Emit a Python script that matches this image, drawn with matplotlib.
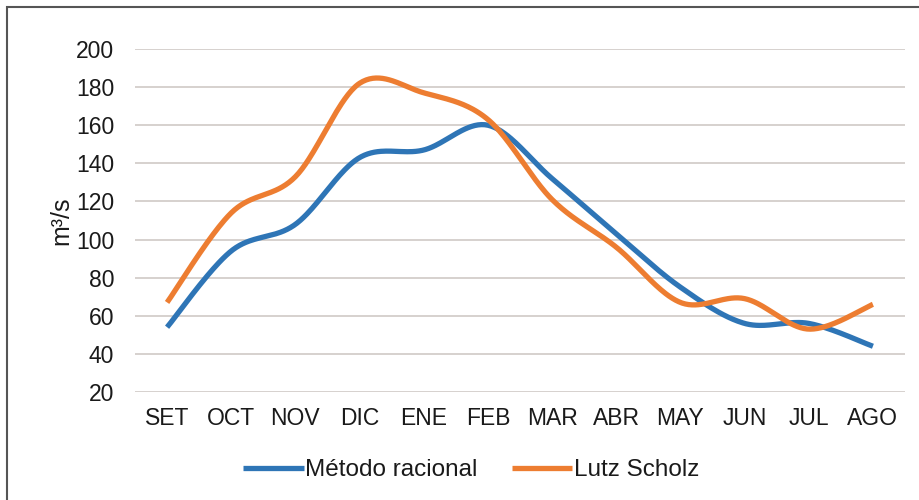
import numpy as np
import matplotlib
matplotlib.use("Agg")
import matplotlib.pyplot as plt
from matplotlib.patches import Rectangle

plt.rcParams["font.family"] = ["Liberation Sans", "DejaVu Sans"]

months = ["SET", "OCT", "NOV", "DIC", "ENE", "FEB", "MAR", "ABR", "MAY", "JUN", "JUL", "AGO"]
metodo_racional = [54, 94, 108, 143, 147, 160, 132, 103, 75, 56, 56, 44]
lutz_scholz = [67, 114, 133, 182, 177, 163, 121, 96, 67, 69, 53, 66]

BLUE = "#2E75B6"
ORANGE = "#ED7D31"


def smooth(y, n=40):
    """Excel-style smoothed line: cubic bezier through points, Catmull-Rom tangents."""
    x = np.arange(len(y), dtype=float)
    pts = np.column_stack([x, np.asarray(y, dtype=float)])
    ext = np.vstack([pts[0], pts, pts[-1]])
    out = []
    t = np.linspace(0, 1, n)[:, None]
    for i in range(len(pts) - 1):
        p0, p1, p2, p3 = ext[i], ext[i + 1], ext[i + 2], ext[i + 3]
        c1 = p1 + (p2 - p0) / 6
        c2 = p2 - (p3 - p1) / 6
        seg = ((1 - t) ** 3) * p1 + 3 * ((1 - t) ** 2) * t * c1 + 3 * (1 - t) * t ** 2 * c2 + t ** 3 * p2
        out.append(seg if i == 0 else seg[1:])
    seg = np.vstack(out)
    return seg[:, 0], seg[:, 1]


fig = plt.figure(figsize=(9.2, 5.0), dpi=100)
# grey frame round the picture (only left and top edges fall inside the image)
fig.patches.append(Rectangle((7 / 920, -0.1), 1.2, 1.1 - 7 / 500, transform=fig.transFigure,
                             fill=False, edgecolor="#555555", linewidth=1.5))

ax = fig.add_axes([135 / 920, 108 / 500, 770 / 920, 343 / 500])

for vals, color, label in [(metodo_racional, BLUE, "Método racional"),
                           (lutz_scholz, ORANGE, "Lutz Scholz")]:
    xs, ys = smooth(vals)
    ax.plot(xs, ys, color=color, linewidth=3.8, solid_capstyle="butt", label=label)

ax.set_xlim(-0.5, len(months) - 0.5)
ax.set_ylim(20, 200)
ax.set_yticks(np.arange(20, 201, 20))
ax.set_xticks(range(len(months)))
ax.set_xticklabels(months)
ax.grid(axis="y", color="#D6D1CE", linewidth=1.4)
ax.set_axisbelow(True)
for s in ax.spines.values():
    s.set_visible(False)
ax.tick_params(axis="both", length=0, labelsize=16.5, colors="#1a1a1a")
ax.tick_params(axis="y", pad=15)
ax.tick_params(axis="x", pad=11)
ax.set_ylabel("m³/s", fontsize=18, labelpad=2, color="#1a1a1a")

fig.legend(loc="center", bbox_to_anchor=(0.512, 0.06), ncol=2, frameon=False,
           fontsize=17.5, handlelength=2.5, handletextpad=0.05, columnspacing=1.4,
           labelcolor="#1a1a1a")

fig.savefig("out.png", dpi=100)
